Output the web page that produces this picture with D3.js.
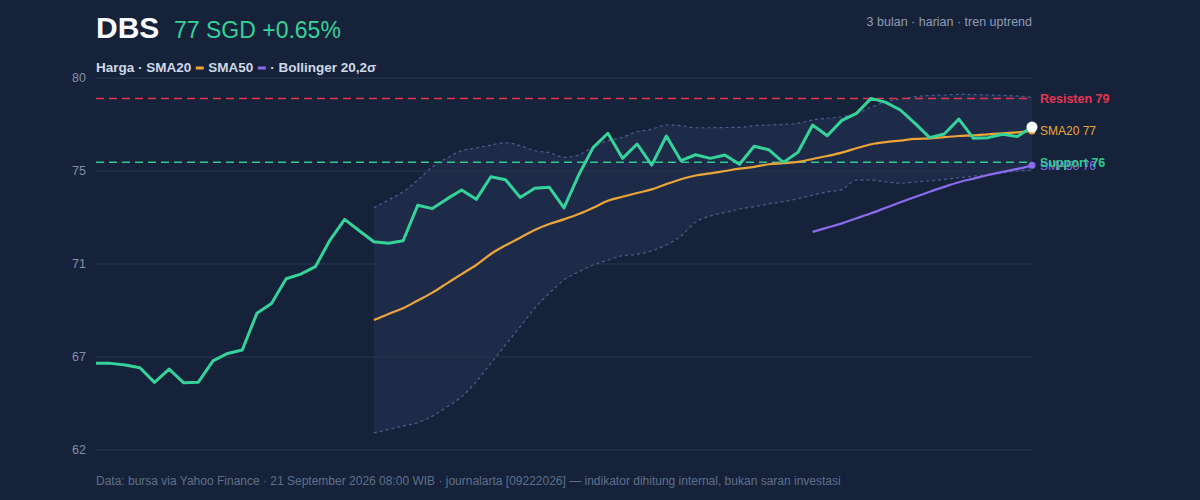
<!DOCTYPE html>
<html>
<head>
<meta charset="utf-8">
<script src="https://cdn.jsdelivr.net/npm/d3@7"></script>
<style>
  html, body { margin: 0; padding: 0; background: #16223a; }
  svg { display: block; font-family: "Liberation Sans", Arial, Helvetica, sans-serif; }
</style>
</head>
<body>
<svg id="chart"></svg>
<script>
// closing prices, 65 trading days
const price = [
  66.27, 66.27, 66.19, 66.06, 65.37, 66.00, 65.35, 65.38, 66.39, 66.74,
  66.90, 68.64, 69.11, 70.28, 70.50, 70.85, 72.11, 73.09, 72.55, 72.03,
  71.96, 72.08, 73.76, 73.60, 74.06, 74.48, 74.04, 75.11, 74.97, 74.13,
  74.56, 74.61, 73.63, 75.19, 76.50, 77.17, 75.98, 76.66, 75.66, 77.04,
  75.87, 76.15, 75.98, 76.14, 75.70, 76.55, 76.39, 75.79, 76.27, 77.56,
  77.05, 77.78, 78.11, 78.82, 78.63, 78.27, 77.64, 76.96, 77.13, 77.84,
  76.93, 76.96, 77.12, 77.01, 77.46
];

// indicators start once enough days are available
const sma20Start = 19;
const sma20 = [
  68.32, 68.61, 68.88, 69.25, 69.62, 70.06, 70.50, 70.93, 71.45, 71.86,
  72.22, 72.59, 72.87, 73.09, 73.34, 73.64, 73.97, 74.16, 74.34, 74.51,
  74.76, 74.99, 75.17, 75.27, 75.38, 75.49, 75.58, 75.70, 75.75, 75.81,
  75.95, 76.09, 76.25, 76.46, 76.65, 76.75, 76.82, 76.90, 76.93, 76.99,
  77.04, 77.07, 77.12, 77.17, 77.21, 77.28
];

const sma50Start = 49;
const sma50 = [
  72.50, 72.70, 72.90, 73.14, 73.38, 73.64, 73.90, 74.15, 74.40, 74.63,
  74.85, 75.02, 75.19, 75.34, 75.48, 75.65
];

const bbStart = 19;
const bbUpper = [
  73.64, 74.01, 74.40, 74.95, 75.58, 76.00, 76.34, 76.47, 76.61, 76.72,
  76.58, 76.34, 76.25, 76.03, 76.14, 76.53, 76.82, 76.98, 77.24, 77.36,
  77.56, 77.53, 77.43, 77.43, 77.44, 77.45, 77.53, 77.56, 77.59, 77.64,
  77.80, 77.88, 77.95, 78.11, 78.40, 78.66, 78.79, 78.90, 78.96, 78.98,
  79.01, 79.00, 78.98, 78.96, 78.93, 78.87
];
const bbLower = [
  62.98, 63.14, 63.30, 63.46, 63.77, 64.21, 64.69, 65.40, 66.27, 67.14,
  68.00, 68.88, 69.59, 70.22, 70.61, 70.93, 71.16, 71.37, 71.43, 71.60,
  71.88, 72.30, 72.96, 73.25, 73.41, 73.58, 73.69, 73.82, 73.93, 74.07,
  74.24, 74.39, 74.51, 74.95, 74.95, 74.87, 74.80, 74.86, 74.91, 74.98,
  75.06, 75.14, 75.22, 75.30, 75.38, 75.43
];

const resistance = 78.82;
const support = 75.79;

const yDomain = [62.2, 79.8];
const yTicks = [62.2, 66.6, 71, 75.4, 79.8];

const legendParts = [
  { text: "Harga · SMA20" },
  { swatch: "#eda53a" },
  { text: "SMA50" },
  { swatch: "#8b6cf0" },
  { text: "· Bollinger 20,2σ" }
];

var width = 1200, height = 500;
var margin = ({ top: 77.7, right: 168, bottom: 50.7, left: 96 });

var svg = d3.select("#chart")
  .attr("width", width)
  .attr("height", height);

svg.append("rect")
  .attr("width", width)
  .attr("height", height)
  .attr("fill", "#16223a");

var x = d3.scaleLinear()
  .domain([0, price.length - 1])
  .range([margin.left, width - margin.right]);

var y = d3.scaleLinear()
  .domain(yDomain)
  .range([height - margin.bottom, margin.top]);

// title block
svg.append("text")
  .attr("x", 96).attr("y", 38)
  .attr("fill", "#f8fafc")
  .attr("font-size", 30).attr("font-weight", 700)
  .text("DBS");

svg.append("text")
  .attr("x", 174).attr("y", 38)
  .attr("fill", "#34d399")
  .attr("font-size", 23)
  .text("77 SGD +0.65%");

svg.append("text")
  .attr("x", width - margin.right).attr("y", 26)
  .attr("text-anchor", "end")
  .attr("fill", "#8f9db6")
  .attr("font-size", 12.5)
  .text("3 bulan · harian · tren uptrend");

// legend line, laid out piece by piece
var legend = svg.append("g").attr("transform", "translate(96,72)");
var lx = 0;
legendParts.forEach(p => {
  if (p.text) {
    var t = legend.append("text")
      .attr("x", lx).attr("y", 0)
      .attr("fill", "#cfd8e6")
      .attr("font-size", 13.5).attr("font-weight", 700)
      .text(p.text);
    lx += t.node().getComputedTextLength() + 4.5;
  } else {
    legend.append("rect")
      .attr("x", lx).attr("y", -5.5)
      .attr("width", 8).attr("height", 3)
      .attr("fill", p.swatch);
    lx += 12.5;
  }
});

// bollinger band fill
var bandData = bbUpper.map((u, i) => ({ i: i + bbStart, u: u, l: bbLower[i] }));

svg.append("path")
  .datum(bandData)
  .attr("fill", "#1d2b49")
  .attr("d", d3.area()
    .x(d => x(d.i))
    .y0(d => y(d.l))
    .y1(d => y(d.u))
    .curve(d3.curveMonotoneX));

// grid + y axis
var yAxis = svg.append("g")
  .attr("transform", `translate(${margin.left},0)`)
  .call(d3.axisLeft(y)
    .tickValues(yTicks)
    .tickFormat(d3.format(".0f"))
    .tickSize(-(width - margin.left - margin.right))
    .tickPadding(10));

yAxis.select(".domain").remove();
yAxis.selectAll(".tick line").attr("stroke", "#223049").attr("stroke-width", 1.5);
yAxis.selectAll(".tick text")
  .attr("fill", "#8390a8")
  .attr("font-size", 12.5)
  .attr("font-family", "Liberation Sans, Arial, sans-serif");

// band edges
var bandLine = key => d3.line()
  .x(d => x(d.i))
  .y(d => y(d[key]))
  .curve(d3.curveMonotoneX);

["u", "l"].forEach(k => {
  svg.append("path")
    .datum(bandData)
    .attr("fill", "none")
    .attr("stroke", "#4a5f8c")
    .attr("stroke-width", 1.2)
    .attr("stroke-dasharray", "3 3")
    .attr("d", bandLine(k));
});

// resistance / support
svg.append("line")
  .attr("x1", margin.left).attr("x2", width - margin.right)
  .attr("y1", y(resistance)).attr("y2", y(resistance))
  .attr("stroke", "#e0344f").attr("stroke-width", 1.5)
  .attr("stroke-dasharray", "8 5");

svg.append("line")
  .attr("x1", margin.left).attr("x2", width - margin.right)
  .attr("y1", y(support)).attr("y2", y(support))
  .attr("stroke", "#2fcb8e").attr("stroke-width", 1.5)
  .attr("stroke-dasharray", "8 5");

var smoothLine = d3.line()
  .x(d => x(d[0]))
  .y(d => y(d[1]))
  .curve(d3.curveMonotoneX);

var sma50Pts = sma50.map((v, i) => [i + sma50Start, v]);
var sma20Pts = sma20.map((v, i) => [i + sma20Start, v]);

svg.append("path")
  .datum(sma50Pts)
  .attr("fill", "none")
  .attr("stroke", "#8b6cf0")
  .attr("stroke-width", 2.2)
  .attr("d", smoothLine);

svg.append("path")
  .datum(sma20Pts)
  .attr("fill", "none")
  .attr("stroke", "#eda53a")
  .attr("stroke-width", 2.2)
  .attr("d", smoothLine);

svg.append("path")
  .datum(price.map((v, i) => [i, v]))
  .attr("fill", "none")
  .attr("stroke", "#34d399")
  .attr("stroke-width", 3)
  .attr("stroke-linejoin", "round")
  .attr("d", d3.line().x(d => x(d[0])).y(d => y(d[1])));

// end markers
var last = price.length - 1;
svg.append("circle")
  .attr("cx", x(last)).attr("cy", y(sma20[sma20.length - 1]))
  .attr("r", 3.5).attr("fill", "#eda53a");
svg.append("circle")
  .attr("cx", x(last)).attr("cy", y(sma50[sma50.length - 1]))
  .attr("r", 3.5).attr("fill", "#8b6cf0");
svg.append("circle")
  .attr("cx", x(last)).attr("cy", y(price[last]))
  .attr("r", 5.5).attr("fill", "#ffffff");

// right-hand labels (support and SMA50 sit on top of each other, as in the source)
var lblX = width - margin.right + 8;
var fmt = d3.format(".0f");

svg.append("text")
  .attr("x", lblX).attr("y", y(resistance)).attr("dy", "0.35em")
  .attr("fill", "#e5364f").attr("font-size", 12.5).attr("font-weight", 700)
  .text("Resisten " + fmt(resistance));

svg.append("text")
  .attr("x", lblX).attr("y", y(sma20[sma20.length - 1])).attr("dy", "0.35em")
  .attr("fill", "#eda53a").attr("font-size", 12)
  .text("SMA20 " + fmt(sma20[sma20.length - 1]));

svg.append("text")
  .attr("x", lblX).attr("y", y(sma50[sma50.length - 1])).attr("dy", "0.35em")
  .attr("fill", "#8b6cf0").attr("font-size", 12)
  .text("SMA50 " + fmt(sma50[sma50.length - 1]));

svg.append("text")
  .attr("x", lblX).attr("y", y(support)).attr("dy", "0.35em")
  .attr("fill", "#2fcb8e").attr("font-size", 12.5).attr("font-weight", 700)
  .text("Support " + fmt(support));

// footer
svg.append("text")
  .attr("x", 96).attr("y", 485)
  .attr("fill", "#5f6f8a")
  .attr("font-size", 12)
  .text("Data: bursa via Yahoo Finance · 21 September 2026 08:00 WIB · journalarta [09222026] — indikator dihitung internal, bukan saran investasi");
</script>
</body>
</html>
